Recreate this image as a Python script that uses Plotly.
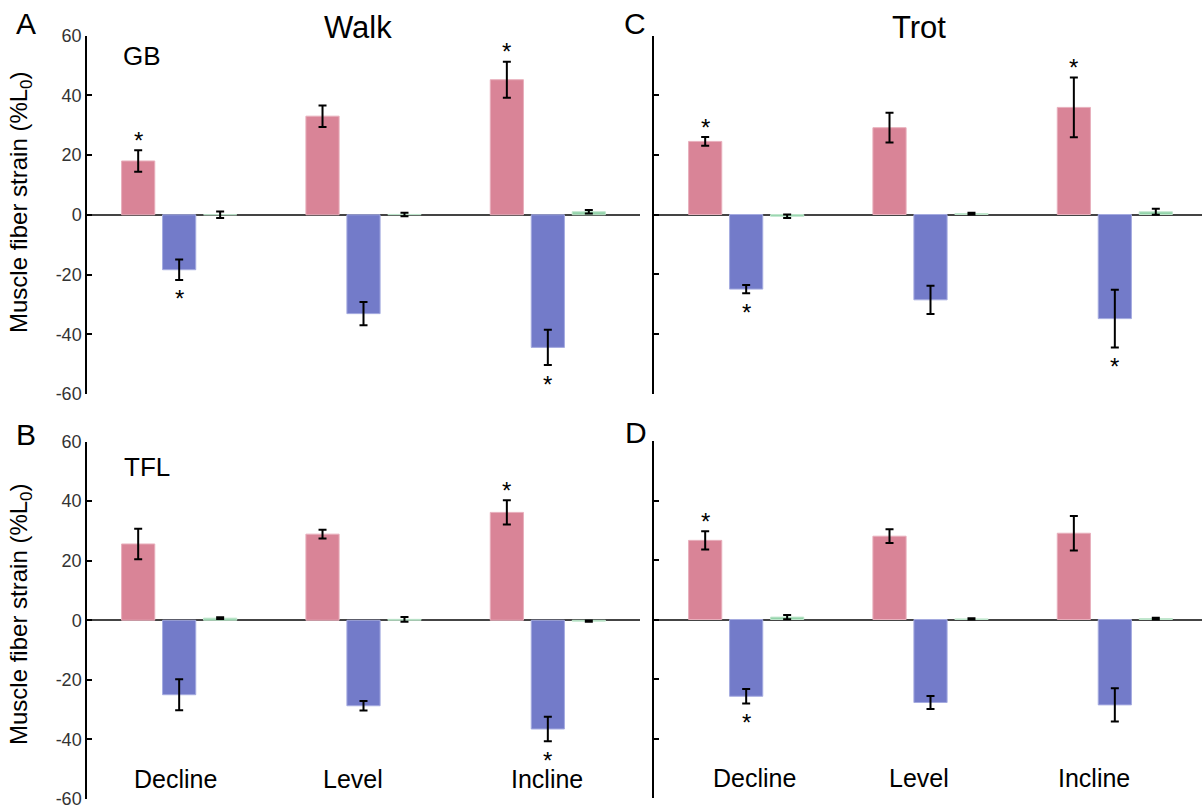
import plotly.graph_objects as go

# ---------------- data ----------------
conditions = ["Decline", "Level", "Incline"]
series_names = ["Lengthening", "Shortening", "Net"]
series_colors = ["#D98497", "#737BC9", "#93D3AA"]
series_edges = ["#E8AFBC", "#A5ABE0", "#BFE6CC"]

# Panel A: Walk, GB
walk_gb_len = [18.0, 33.0, 45.2]
walk_gb_len_err = [3.6, 3.6, 6.0]
walk_gb_sho = [-18.4, -33.1, -44.4]
walk_gb_sho_err = [3.4, 3.9, 5.9]
walk_gb_net = [0.0, 0.1, 1.0]
walk_gb_net_err = [1.1, 0.6, 0.6]
walk_gb_len_sig = [True, False, True]
walk_gb_sho_sig = [True, False, True]

# Panel C: Trot, GB
trot_gb_len = [24.5, 29.1, 35.9]
trot_gb_len_err = [1.45, 5.0, 10.0]
trot_gb_sho = [-25.0, -28.6, -34.9]
trot_gb_sho_err = [1.4, 4.75, 9.7]
trot_gb_net = [-0.6, 0.3, 0.9]
trot_gb_net_err = [0.6, 0.3, 1.0]
trot_gb_len_sig = [True, False, True]
trot_gb_sho_sig = [True, False, True]

# Panel B: Walk, TFL
walk_tfl_len = [25.6, 28.9, 36.2]
walk_tfl_len_err = [5.1, 1.5, 4.1]
walk_tfl_sho = [-25.0, -28.7, -36.5]
walk_tfl_sho_err = [5.2, 1.6, 4.1]
walk_tfl_net = [0.7, 0.3, -0.3]
walk_tfl_net_err = [0.3, 0.8, 0.2]
walk_tfl_len_sig = [False, False, True]
walk_tfl_sho_sig = [False, False, True]

# Panel D: Trot, TFL
trot_tfl_len = [26.6, 28.0, 29.0]
trot_tfl_len_err = [3.1, 2.3, 5.8]
trot_tfl_sho = [-25.8, -27.9, -28.7]
trot_tfl_sho_err = [2.45, 2.15, 5.6]
trot_tfl_net = [0.8, 0.2, 0.3]
trot_tfl_net_err = [0.7, 0.2, 0.3]
trot_tfl_len_sig = [True, False, False]
trot_tfl_sho_sig = [True, False, False]

y_ticks = [-60, -40, -20, 0, 20, 40, 60]
y_tick_text = ["-60", "-40", "-20", "0", "20", "40", "60"]
y_title = "Muscle fiber strain (%L<sub>0</sub>)"

# ---------------- layout helpers ----------------
W, H = 1202, 808
FONT = "Liberation Sans, Arial, sans-serif"
BARGAP = 0.333
PITCH = (1 - BARGAP) / 3.0
# small horizontal nudges (px) of the condition labels, as in the original
walk_label_shift = [-4, -11, -1]
trot_label_shift = [8, -12, -21]


def px_x(p):
    return p / W


def px_y(p):
    return 1 - p / H


panels = [
    dict(ax="", vals=[walk_gb_len, walk_gb_sho, walk_gb_net],
         errs=[walk_gb_len_err, walk_gb_sho_err, walk_gb_net_err],
         sig=[walk_gb_len_sig, walk_gb_sho_sig], xd=(87, 640), yd=(35.5, 394), xr=2.5,
         labels=True, cats=None),
    dict(ax="2", vals=[trot_gb_len, trot_gb_sho, trot_gb_net],
         errs=[trot_gb_len_err, trot_gb_sho_err, trot_gb_net_err],
         sig=[trot_gb_len_sig, trot_gb_sho_sig], xd=(654, 1202), yd=(35.5, 393.5), xr=2.5 - 5 / 184.5,
         labels=False, cats=None),
    dict(ax="3", vals=[walk_tfl_len, walk_tfl_sho, walk_tfl_net],
         errs=[walk_tfl_len_err, walk_tfl_sho_err, walk_tfl_net_err],
         sig=[walk_tfl_len_sig, walk_tfl_sho_sig], xd=(87, 640), yd=(441.5, 799), xr=2.5,
         labels=True, cats=walk_label_shift),
    dict(ax="4", vals=[trot_tfl_len, trot_tfl_sho, trot_tfl_net],
         errs=[trot_tfl_len_err, trot_tfl_sho_err, trot_tfl_net_err],
         sig=[trot_tfl_len_sig, trot_tfl_sho_sig], xd=(654, 1202), yd=(441, 798), xr=2.5 - 5 / 184.5,
         labels=False, cats=trot_label_shift),
]

fig = go.Figure()
annotations = []
xs = list(range(len(conditions)))

for p in panels:
    xa = "x" + p["ax"]
    ya = "y" + p["ax"]
    for k in range(3):
        fig.add_trace(go.Bar(
            x=xs, y=p["vals"][k], name=series_names[k],
            xaxis=xa, yaxis=ya,
            marker=dict(color=series_colors[k], line=dict(color=series_edges[k], width=1)),
            error_y=dict(type="data", array=p["errs"][k], visible=True,
                         color="black", thickness=2, width=4),
            offsetgroup=str(k), showlegend=False,
        ))
    # significance asterisks
    for k in range(2):
        for i, s in enumerate(p["sig"][k]):
            if not s:
                continue
            v = p["vals"][k][i]
            e = p["errs"][k][i]
            if v >= 0:
                yv, shift = v + e, 10
            else:
                yv, shift = v - e, -19
            annotations.append(dict(
                x=i + (k - 1) * PITCH, y=yv, xref=xa, yref=ya,
                text="*", showarrow=False, yanchor="middle", yshift=shift,
                font=dict(family=FONT, size=24, color="black")))
    # condition labels
    if p["cats"] is not None:
        for i, c in enumerate(conditions):
            annotations.append(dict(
                x=i, y=-53.3, xref=xa, yref=ya, text=c, showarrow=False,
                xshift=p["cats"][i], yanchor="middle",
                font=dict(family=FONT, size=25, color="black")))

    xkey = "xaxis" + p["ax"]
    ykey = "yaxis" + p["ax"]
    fig.update_layout(**{
        xkey: dict(domain=[px_x(p["xd"][0]), px_x(p["xd"][1])], range=[-0.5, p["xr"]],
                   anchor=ya, showline=False, showticklabels=False, ticks="",
                   showgrid=False, zeroline=False, automargin=False),
        ykey: dict(domain=[px_y(p["yd"][1]), px_y(p["yd"][0])], range=[-60, 60],
                   anchor=xa, tickvals=y_ticks, ticktext=y_tick_text,
                   ticks="inside", ticklen=5,
                   tickwidth=1.5, tickcolor="black", showline=True,
                   linecolor="black", linewidth=1.5, showgrid=False,
                   zeroline=True, zerolinecolor="#444", zerolinewidth=1.5,
                   showticklabels=p["labels"], automargin=False,
                   ticklabeloverflow="allow",
                   tickfont=dict(family=FONT, size=18, color="#333")),
    })


def text_ann(x, y, t, size, angle=0):
    return dict(x=px_x(x), y=px_y(y), xref="paper", yref="paper", text=t,
                showarrow=False, xanchor="center", yanchor="middle",
                textangle=angle, font=dict(family=FONT, size=size, color="black"))


annotations += [
    text_ann(26, 23, "A", 30),
    text_ann(635, 23, "C", 30),
    text_ann(26, 434, "B", 30),
    text_ann(636, 432, "D", 30),
    text_ann(358, 27, "Walk", 31),
    text_ann(919, 27, "Trot", 31),
    text_ann(142, 56, "GB", 26),
    text_ann(147, 467, "TFL", 26),
    text_ann(20, 203, y_title, 24, -90),
    text_ann(20, 615, y_title, 24, -90),
]

fig.update_layout(
    width=W, height=H, margin=dict(l=0, r=0, t=0, b=0, autoexpand=False),
    paper_bgcolor="white", plot_bgcolor="white",
    barmode="group", bargap=BARGAP, bargroupgap=0.19,
    showlegend=False, annotations=annotations,
    font=dict(family=FONT),
)

fig.write_html(
    "out.html",
    config={"displayModeBar": False},
    post_script="document.body.style.margin='0';document.body.style.overflow='hidden';",
)
